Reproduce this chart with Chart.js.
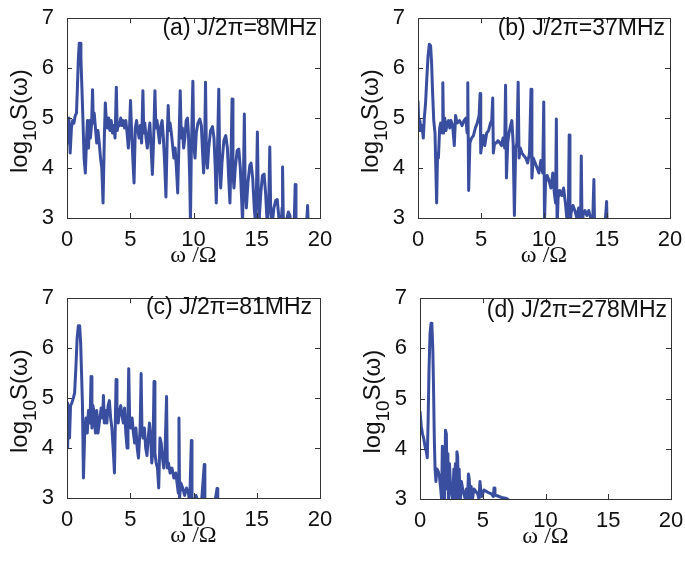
<!DOCTYPE html>
<html>
<head>
<meta charset="utf-8">
<script src="https://cdn.jsdelivr.net/npm/chart.js@4.4.1/dist/chart.umd.min.js"></script>
<style>
  html,body{margin:0;padding:0;background:#fff;}
  body{width:685px;height:561px;position:relative;overflow:hidden;}
  canvas{position:absolute;}
</style>
</head>
<body>
<canvas id="pa" width="342" height="280" style="left:0;top:0"></canvas>
<canvas id="pb" width="343" height="280" style="left:342px;top:0"></canvas>
<canvas id="pc" width="342" height="281" style="left:0;top:280px"></canvas>
<canvas id="pd" width="343" height="281" style="left:342px;top:280px"></canvas>
<script>
// ---------- data ----------
const xTicks = [0, 5, 10, 15, 20];
const yTicks = [3, 4, 5, 6, 7];
const xTitle = 'ω /Ω';
const yTitleParts = ['log', '10', 'S(ω)'];   // log_10 S(ω)
const panelLabels = ['(a) J/2π=8MHz', '(b) J/2π=37MHz', '(c) J/2π=81MHz', '(d) J/2π=278MHz'];

// [omega/Omega, log10 S]
const spectrumA = [
[0,5.0],[0.08,4.5],[0.15,5.0],[0.25,4.3],[0.35,4.8],[0.45,4.95],[0.55,4.9],[0.65,5.05],[0.75,5.1],[0.82,5.6],[0.9,6.2],[0.97,6.5],[1.03,6.5],[1.1,6.2],[1.18,5.6],[1.25,5.05],[1.35,4.2],[1.45,3.9],[1.55,4.6],[1.62,4.95],[1.7,4.4],[1.78,4.95],[1.85,4.6],[1.95,4.9],[2.02,5.57],[2.08,4.9],[2.15,5.1],[2.25,4.8],[2.35,4.5],[2.45,4.75],[2.55,4.5],[2.65,4.2],[2.75,4.0],[2.85,3.3],[2.95,4.6],[3.03,5.3],[3.1,5.0],[3.2,4.8],[3.3,5.0],[3.4,4.75],[3.5,4.95],[3.6,4.7],[3.7,4.85],[3.8,4.6],[3.9,5.62],[3.97,4.75],[4.05,4.9],[4.15,4.85],[4.25,5.0],[4.35,4.85],[4.45,4.95],[4.55,4.8],[4.65,4.95],[4.75,4.7],[4.85,4.4],[4.95,4.85],[5.02,5.35],[5.1,4.8],[5.2,4.2],[5.3,3.7],[5.4,4.8],[5.5,4.95],[5.6,4.75],[5.7,4.6],[5.8,4.85],[5.9,4.5],[6.0,5.55],[6.07,4.7],[6.15,4.9],[6.25,4.6],[6.35,4.4],[6.45,4.7],[6.55,4.9],[6.65,4.4],[6.75,3.87],[6.85,4.6],[6.95,5.55],[7.03,4.8],[7.12,4.95],[7.22,4.7],[7.32,4.5],[7.42,4.85],[7.52,4.95],[7.62,4.6],[7.72,4.1],[7.82,3.42],[7.92,4.6],[8.0,5.25],[8.07,4.75],[8.15,4.9],[8.25,4.7],[8.35,4.45],[8.45,4.2],[8.55,4.4],[8.65,4.0],[8.75,3.5],[8.85,4.5],[8.95,5.55],[9.03,4.6],[9.12,4.8],[9.22,4.4],[9.32,4.6],[9.42,4.95],[9.52,5.0],[9.6,4.7],[9.7,3.8],[9.76,2.9],[9.82,4.2],[9.95,5.74],[10.02,4.5],[10.12,4.2],[10.22,4.7],[10.35,4.9],[10.5,4.98],[10.62,4.85],[10.72,4.3],[10.8,3.9],[10.88,4.4],[10.95,5.72],[11.02,4.3],[11.1,4.0],[11.2,4.4],[11.35,4.75],[11.5,4.83],[11.62,4.6],[11.72,4.0],[11.8,3.3],[11.88,4.2],[12.0,5.58],[12.07,4.1],[12.15,3.6],[12.25,4.1],[12.4,4.55],[12.55,4.65],[12.68,4.4],[12.78,3.8],[12.88,3.3],[12.95,4.0],[13.05,5.38],[13.12,3.9],[13.2,3.6],[13.3,4.0],[13.45,4.35],[13.58,4.38],[13.7,4.0],[13.8,3.4],[13.88,2.9],[13.95,3.8],[14.02,5.08],[14.08,3.7],[14.18,3.2],[14.3,3.7],[14.45,4.05],[14.55,4.1],[14.68,3.8],[14.8,3.2],[14.9,2.9],[14.98,3.6],[15.05,4.72],[15.12,3.5],[15.2,3.0],[15.32,3.5],[15.45,3.85],[15.58,3.88],[15.7,3.5],[15.82,2.9],[15.95,3.3],[16.03,4.42],[16.1,3.2],[16.2,2.8],[16.35,3.2],[16.5,3.35],[16.62,3.37],[16.75,3.0],[16.9,2.7],[17.0,3.2],[17.04,4.02],[17.1,3.0],[17.2,2.7],[17.35,2.95],[17.5,3.12],[17.62,3.05],[17.78,2.7],[17.95,2.8],[18.04,3.67],[18.1,2.8],[18.3,2.6],[18.6,2.7],[18.9,2.7],[19.02,3.25],[19.1,2.6],[19.5,2.5],[20,2.5]
];
const spectrumB = [
[0,5.35],[0.08,4.75],[0.15,4.95],[0.25,4.75],[0.32,4.85],[0.42,4.6],[0.5,5.0],[0.6,5.3],[0.7,5.8],[0.8,6.25],[0.9,6.48],[1.0,6.45],[1.08,6.1],[1.16,5.5],[1.25,4.95],[1.35,4.7],[1.48,3.3],[1.55,4.3],[1.62,4.2],[1.72,4.8],[1.8,4.9],[1.92,4.7],[1.97,5.71],[2.03,4.7],[2.12,5.0],[2.22,4.75],[2.32,4.9],[2.42,4.95],[2.52,4.8],[2.62,4.95],[2.75,4.85],[2.88,4.45],[2.98,5.05],[3.1,4.9],[3.3,4.95],[3.5,4.85],[3.65,4.95],[3.8,5.0],[3.9,4.7],[3.95,5.71],[4.02,3.55],[4.12,4.5],[4.25,4.6],[4.4,4.65],[4.55,4.8],[4.7,4.9],[4.85,5.05],[4.93,5.49],[4.98,4.3],[5.08,4.5],[5.2,4.65],[5.3,4.45],[5.45,4.7],[5.6,4.75],[5.75,4.9],[5.85,4.95],[5.93,5.4],[5.98,4.3],[6.08,4.5],[6.2,4.5],[6.35,4.55],[6.5,4.5],[6.62,4.45],[6.75,4.6],[6.88,4.4],[6.95,5.66],[7.02,3.8],[7.12,4.5],[7.22,4.7],[7.35,4.85],[7.45,4.95],[7.55,4.5],[7.65,3.05],[7.75,4.4],[7.85,4.5],[7.95,5.72],[8.02,4.2],[8.12,4.4],[8.25,4.3],[8.4,4.25],[8.55,4.2],[8.7,4.1],[8.85,4.3],[8.97,5.58],[9.04,3.8],[9.15,4.2],[9.3,4.1],[9.45,4.0],[9.6,3.9],[9.75,4.15],[9.9,3.9],[9.98,5.32],[10.04,2.9],[10.12,3.7],[10.25,3.85],[10.4,3.75],[10.55,3.6],[10.7,3.9],[10.82,3.5],[10.92,3.3],[10.98,4.98],[11.04,2.8],[11.12,3.4],[11.25,3.55],[11.4,3.45],[11.55,3.6],[11.7,3.3],[11.85,2.9],[11.94,3.3],[12.0,4.66],[12.06,2.8],[12.15,3.1],[12.3,3.25],[12.45,3.15],[12.6,3.0],[12.75,3.2],[12.9,2.9],[12.96,4.24],[13.02,2.8],[13.12,3.1],[13.25,3.15],[13.4,3.05],[13.55,3.15],[13.7,3.0],[13.85,2.8],[13.96,3.77],[14.02,2.7],[14.2,2.8],[14.5,2.7],[14.8,2.7],[14.97,3.33],[15.03,2.6],[15.5,2.5],[20,2.5]
];
const spectrumC = [
[0,4.9],[0.05,4.0],[0.12,4.85],[0.2,4.2],[0.28,4.85],[0.38,4.9],[0.5,5.0],[0.6,5.1],[0.7,5.6],[0.8,6.2],[0.9,6.45],[1.0,6.45],[1.08,6.1],[1.15,5.5],[1.22,4.9],[1.3,3.4],[1.4,4.3],[1.5,4.6],[1.6,4.3],[1.7,4.75],[1.82,4.5],[1.9,5.43],[1.97,4.4],[2.05,4.85],[2.15,4.7],[2.25,4.3],[2.35,4.75],[2.45,4.3],[2.55,4.5],[2.7,4.8],[2.82,4.6],[2.88,5.05],[2.95,4.5],[3.05,4.75],[3.15,4.5],[3.25,4.85],[3.35,4.95],[3.45,4.6],[3.55,4.4],[3.65,4.0],[3.75,3.5],[3.82,4.5],[3.88,5.37],[3.95,4.6],[4.05,4.5],[4.15,4.75],[4.25,4.85],[4.35,4.65],[4.45,4.5],[4.55,4.8],[4.65,4.3],[4.75,4.0],[4.82,4.6],[4.88,5.59],[4.95,4.6],[5.05,4.4],[5.15,4.6],[5.25,4.3],[5.35,4.1],[5.45,4.4],[5.55,4.0],[5.65,3.8],[5.78,4.4],[5.86,5.49],[5.93,4.3],[6.02,4.2],[6.12,4.4],[6.22,4.0],[6.32,3.85],[6.42,4.2],[6.52,4.5],[6.6,4.3],[6.7,3.7],[6.8,4.0],[6.88,5.33],[6.95,3.9],[7.05,3.7],[7.15,3.6],[7.25,3.2],[7.35,4.2],[7.45,4.1],[7.55,3.8],[7.65,3.6],[7.75,3.9],[7.87,5.03],[7.93,3.6],[8.02,3.7],[8.15,3.5],[8.3,3.6],[8.45,3.4],[8.6,3.5],[8.7,3.3],[8.8,3.1],[8.85,4.6],[8.9,3.0],[9.0,3.3],[9.15,3.2],[9.3,3.05],[9.45,3.2],[9.6,3.1],[9.7,2.9],[9.83,4.15],[9.88,2.8],[10.0,2.9],[10.2,3.05],[10.4,2.9],[10.6,2.8],[10.85,3.67],[10.9,2.7],[11.2,2.7],[11.5,2.6],[11.86,3.19],[11.92,2.6],[12.5,2.5],[20,2.5]
];
const spectrumD = [
[0,4.75],[0.1,4.45],[0.2,4.3],[0.3,4.2],[0.4,4.05],[0.5,3.95],[0.58,3.82],[0.65,4.6],[0.72,5.6],[0.8,6.3],[0.88,6.5],[0.95,6.45],[1.02,6.0],[1.08,5.2],[1.14,4.2],[1.2,3.6],[1.27,3.35],[1.35,3.6],[1.45,3.55],[1.55,3.45],[1.65,3.2],[1.72,3.0],[1.78,4.05],[1.84,3.1],[1.9,3.8],[1.96,3.0],[2.03,4.37],[2.1,4.3],[2.16,3.2],[2.22,3.9],[2.28,2.9],[2.35,3.7],[2.42,3.3],[2.5,3.15],[2.6,3.0],[2.7,3.6],[2.75,2.9],[2.82,3.7],[2.88,3.0],[2.94,3.94],[3.0,3.85],[3.06,3.0],[3.12,3.6],[3.2,2.9],[3.3,3.35],[3.4,3.2],[3.5,3.1],[3.6,3.0],[3.7,3.2],[3.78,2.95],[3.86,3.5],[3.92,3.4],[4.0,3.0],[4.08,3.25],[4.15,2.95],[4.3,3.2],[4.45,3.15],[4.6,3.1],[4.7,3.0],[4.78,3.35],[4.85,3.15],[4.92,3.05],[5.1,3.18],[5.3,3.15],[5.5,3.12],[5.7,3.1],[5.85,3.05],[5.9,3.22],[5.97,3.08],[6.2,3.06],[6.5,3.03],[6.9,3.01],[7.2,2.95],[8,2.85],[20,2.85]
];

// ---------- drawing ----------
const LINE = 'rgb(58,78,160)';
const TXT = '#111';
const SANS = '"Liberation Sans", Arial, Helvetica, sans-serif';
const SERIF = '"Liberation Serif", "Times New Roman", serif';

const boxPlugin = {
  id: 'box',
  afterDatasetsDraw(chart, args, opts) {
    const {ctx, chartArea: a, scales: {x, y}} = chart;
    const TL = 5;
    ctx.save();
    ctx.strokeStyle = '#333';
    ctx.lineWidth = 1;
    ctx.strokeRect(Math.round(a.left) + 0.5, Math.round(a.top) + 0.5,
                   Math.round(a.right - a.left), Math.round(a.bottom - a.top));
    ctx.beginPath();
    xTicks.forEach(v => {
      const px = Math.round(x.getPixelForValue(v)) + 0.5;
      ctx.moveTo(px, a.bottom); ctx.lineTo(px, a.bottom - TL);
      ctx.moveTo(px, a.top); ctx.lineTo(px, a.top + TL);
    });
    yTicks.forEach(v => {
      const py = Math.round(y.getPixelForValue(v)) + 0.5;
      ctx.moveTo(a.left, py); ctx.lineTo(a.left + TL, py);
      ctx.moveTo(a.right, py); ctx.lineTo(a.right - TL, py);
    });
    ctx.stroke();
    // panel annotation
    ctx.fillStyle = TXT;
    ctx.font = '23px ' + SANS;
    ctx.textAlign = 'right';
    ctx.textBaseline = 'middle';
    ctx.fillText(opts.text, opts.right, opts.y);
    // y-axis title with subscript, rotated
    const big = '24px ' + SANS, small = '19px ' + SANS;
    ctx.font = big; const w0 = ctx.measureText(yTitleParts[0]).width;
    const w2 = ctx.measureText(yTitleParts[2]).width;
    ctx.font = small; const w1 = ctx.measureText(yTitleParts[1]).width;
    const total = w0 + w1 + w2;
    const cy = (a.top + a.bottom) / 2 + 3;
    ctx.translate(a.left - 40, cy);
    ctx.rotate(-Math.PI / 2);
    ctx.textAlign = 'left';
    ctx.textBaseline = 'alphabetic';
    let px = -total / 2;
    ctx.font = big; ctx.fillText(yTitleParts[0], px, 0); px += w0;
    ctx.font = small; ctx.fillText(yTitleParts[1], px, 9); px += w1;
    ctx.font = big; ctx.fillText(yTitleParts[2], px, 0);
    ctx.restore();
  }
};

function makePanel(id, pts, label, L) {
  new Chart(document.getElementById(id), {
    type: 'line',
    data: {
      datasets: [{
        data: pts.map(p => ({x: p[0], y: p[1]})),
        borderColor: LINE, borderWidth: 3, pointRadius: 0,
        tension: 0, fill: false, clip: 0, borderJoinStyle: 'round'
      }]
    },
    options: {
      responsive: false, animation: false,
      layout: {padding: {top: L.padTop, right: L.padRight, left: 0, bottom: 0}},
      plugins: {legend: {display: false}, tooltip: {enabled: false},
                box: {text: label, right: L.labelRight, y: L.labelY}},
      scales: {
        x: {
          type: 'linear', min: 0, max: 20,
          afterBuildTicks: s => { s.ticks = xTicks.map(v => ({value: v})); },
          ticks: {color: TXT, font: {family: SANS, size: 22}, padding: 1, maxRotation: 0, autoSkip: false},
          grid: {display: false}, border: {display: false},
          title: {display: true, text: xTitle, color: TXT, font: {family: SERIF, size: 24},
                  padding: {top: 0, bottom: L.xTitlePad}},
          afterFit: s => { s.height = L.xH; }
        },
        y: {
          type: 'linear', min: 3, max: 7,
          afterBuildTicks: s => { s.ticks = yTicks.map(v => ({value: v})); },
          ticks: {color: TXT, font: {family: SANS, size: 22}, padding: 5},
          grid: {display: false}, border: {display: false},
          title: {display: false},
          afterFit: s => { s.width = L.yW; }
        }
      }
    },
    plugins: [boxPlugin]
  });
}

makePanel('pa', spectrumA, panelLabels[0], {padTop: 12, padRight: 22, xH: 62, yW: 67, labelRight: 317, labelY: 29, xTitlePad: 10});
makePanel('pb', spectrumB, panelLabels[1], {padTop: 12, padRight: 15, xH: 62, yW: 76, labelRight: 323, labelY: 29, xTitlePad: 10});
makePanel('pc', spectrumC, panelLabels[2], {padTop: 10, padRight: 22, xH: 63, yW: 67, labelRight: 312, labelY: 28, xTitlePad: 11});
makePanel('pd', spectrumD, panelLabels[3], {padTop: 12, padRight: 14, xH: 62, yW: 78, labelRight: 325, labelY: 31, xTitlePad: 10});
</script>
</body>
</html>
